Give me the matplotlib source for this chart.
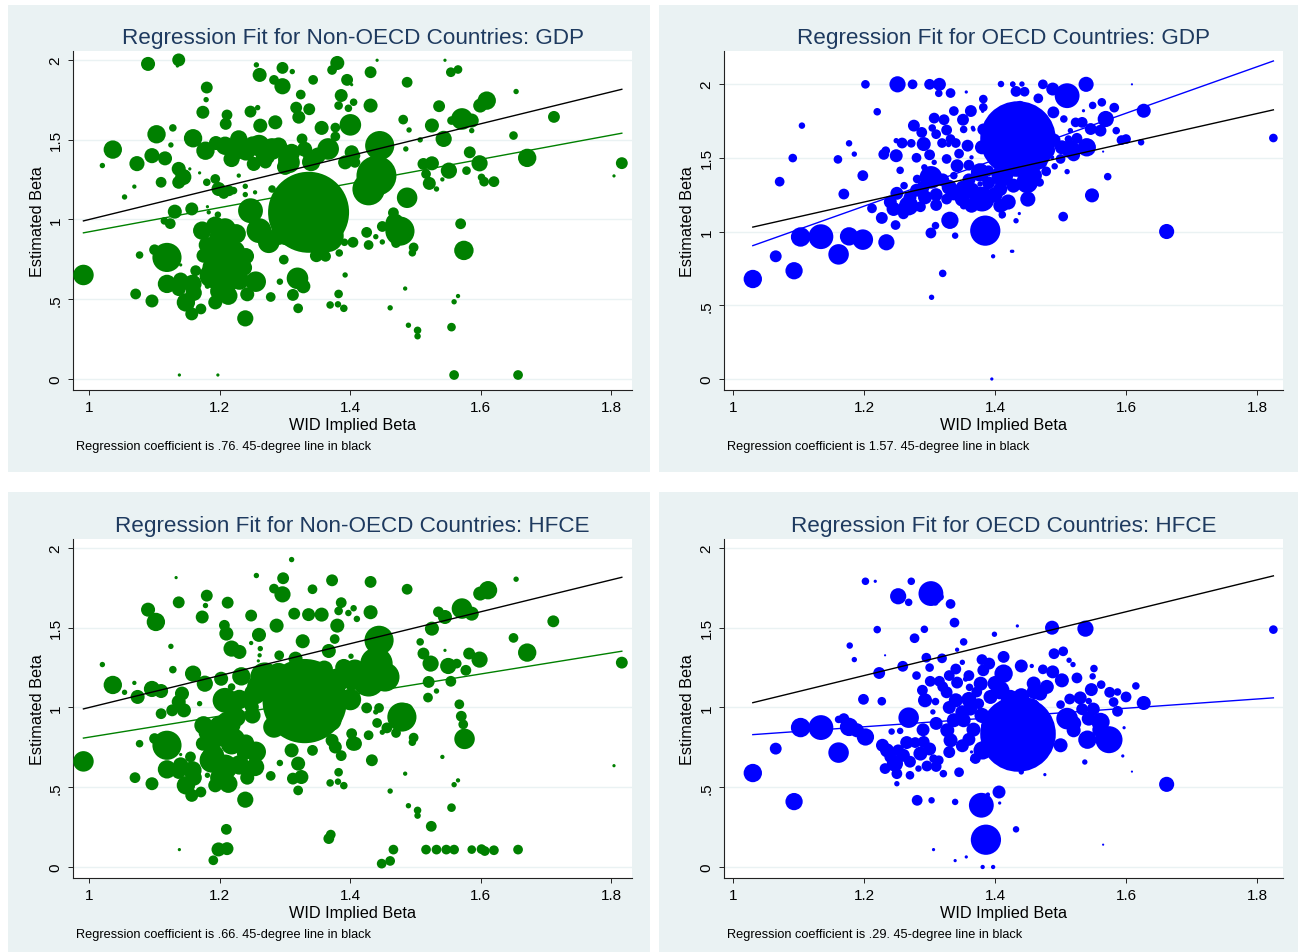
import matplotlib
matplotlib.use("Agg")
import matplotlib.pyplot as plt
from matplotlib.patches import Rectangle
import numpy as np

plt.rcParams['font.family'] = ['Liberation Sans', 'DejaVu Sans']

# ---------------- data: (WID implied beta, estimated beta, marker weight ~ diameter) -------------
nonoecd_gdp = [
    (1.090, 1.975, 13), (1.137, 2.000, 12), (1.135, 1.962, 3), (0.991, 0.652, 19), (1.036, 1.438, 17),
    (1.020, 1.338, 5), (1.054, 1.141, 5), (1.069, 1.206, 4), (1.073, 1.350, 14), (1.103, 1.534, 17),
    (1.096, 1.400, 14), (1.116, 1.383, 13), (1.128, 1.574, 7), (1.125, 1.467, 5), (1.110, 1.233, 10),
    (1.137, 1.317, 13), (1.144, 1.266, 15), (1.137, 1.233, 12), (1.154, 1.317, 3), (1.169, 1.292, 3),
    (1.159, 1.509, 17), (1.174, 1.672, 12), (1.179, 1.751, 5), (1.180, 1.827, 11), (1.178, 1.431, 17),
    (1.194, 1.479, 13), (1.211, 1.655, 10), (1.209, 1.599, 11), (1.208, 1.462, 17), (1.218, 1.379, 15),
    (1.229, 1.505, 16), (1.193, 1.254, 9), (1.198, 1.191, 13), (1.180, 1.233, 7), (1.221, 1.181, 7),
    (1.229, 1.275, 4), (1.239, 1.208, 5), (1.239, 1.156, 5), (1.254, 1.170, 4), (1.247, 1.676, 11),
    (1.258, 1.701, 5), (1.262, 1.588, 13), (1.260, 1.463, 20), (1.280, 1.442, 20), (1.285, 1.609, 13),
    (1.252, 1.348, 13), (1.280, 1.191, 7), (1.300, 1.379, 13), (1.261, 1.906, 13), (1.256, 1.969, 5),
    (1.296, 1.950, 11), (1.311, 1.927, 5), (1.283, 1.875, 9), (1.296, 1.835, 15), (1.324, 1.783, 9),
    (1.343, 1.875, 9), (1.317, 1.701, 11), (1.337, 1.691, 11), (1.321, 1.641, 12), (1.326, 1.505, 10),
    (1.336, 1.400, 10), (1.356, 1.574, 13), (1.377, 1.576, 9), (1.377, 1.520, 9), (1.380, 1.981, 13),
    (1.372, 1.937, 9), (1.395, 1.875, 11), (1.386, 1.777, 12), (1.382, 1.714, 8), (1.397, 1.697, 7),
    (1.405, 1.735, 7), (1.400, 1.593, 20), (1.366, 1.442, 20), (1.392, 1.358, 13), (1.336, 1.045, 75),
    (1.304, 0.939, 30), (1.365, 0.897, 30), (1.355, 0.794, 13), (1.306, 1.358, 20), (1.340, 1.360, 17),
    (1.247, 1.055, 23), (1.260, 0.930, 23), (1.275, 0.857, 20), (1.290, 0.898, 17), (1.193, 0.961, 17),
    (1.173, 0.930, 17), (1.208, 0.940, 20), (1.213, 0.836, 20), (1.198, 0.773, 20), (1.218, 0.710, 20),
    (1.188, 0.648, 23), (1.208, 0.606, 23), (1.213, 0.522, 17), (1.193, 0.480, 13), (1.175, 0.773, 13),
    (1.163, 0.679, 10), (1.158, 0.596, 17), (1.148, 0.480, 17), (1.157, 0.408, 12), (1.171, 0.439, 10),
    (1.137, 0.564, 13), (1.119, 0.596, 17), (1.119, 0.762, 27), (1.100, 0.810, 10), (1.077, 0.777, 7),
    (1.071, 0.533, 10), (1.096, 0.489, 12), (1.140, 0.715, 3), (1.181, 0.582, 5), (1.239, 0.380, 15),
    (1.242, 0.531, 13), (1.237, 0.698, 15), (1.255, 0.610, 19), (1.278, 0.514, 9), (1.292, 0.610, 6),
    (1.298, 0.748, 9), (1.312, 0.527, 11), (1.320, 0.443, 9), (1.319, 0.631, 20), (1.328, 0.581, 13),
    (1.348, 0.773, 12), (1.362, 0.769, 10), (1.383, 0.790, 7), (1.404, 0.857, 10), (1.391, 0.857, 7),
    (1.392, 0.652, 5), (1.382, 0.533, 8), (1.369, 0.464, 7), (1.381, 0.468, 6), (1.390, 0.443, 7),
    (1.138, 0.025, 3), (1.197, 0.025, 3), (1.131, 1.049, 13), (1.124, 0.974, 10), (1.115, 0.991, 7),
    (1.157, 1.066, 12), (1.183, 1.045, 4), (1.197, 1.030, 6), (1.181, 1.080, 3), (1.206, 1.163, 10),
    (1.214, 1.180, 10), (1.240, 1.100, 4),
    (1.240, 1.430, 18), (1.270, 1.400, 18), (1.290, 1.460, 16), (1.310, 1.420, 16), (1.222, 1.420, 16),
    (1.250, 1.470, 15), (1.330, 1.440, 14), (1.350, 1.400, 15), (1.300, 1.330, 15), (1.270, 1.360, 12),
    (1.200, 0.880, 20), (1.222, 0.800, 20), (1.190, 0.700, 20), (1.230, 0.620, 18), (1.200, 0.550, 18),
    (1.225, 0.910, 18), (1.240, 0.770, 15), (1.180, 0.840, 15), (1.160, 0.540, 15), (1.140, 0.620, 14),
    (1.402, 1.845, 3), (1.431, 1.923, 11), (1.441, 1.998, 3), (1.487, 1.860, 10), (1.545, 1.998, 3),
    (1.554, 1.923, 9), (1.565, 1.940, 8), (1.431, 1.714, 13), (1.481, 1.626, 9), (1.490, 1.561, 5),
    (1.536, 1.710, 11), (1.525, 1.589, 13), (1.543, 1.505, 15), (1.507, 1.499, 5), (1.485, 1.442, 5),
    (1.571, 1.630, 20), (1.586, 1.620, 13), (1.555, 1.620, 8), (1.586, 1.557, 5), (1.599, 1.714, 13),
    (1.609, 1.745, 17), (1.654, 1.802, 5), (1.712, 1.643, 11), (1.650, 1.526, 8), (1.671, 1.386, 17),
    (1.816, 1.353, 11), (1.804, 1.273, 3), (1.445, 1.463, 27), (1.440, 1.274, 37), (1.428, 1.190, 30),
    (1.407, 1.400, 10), (1.402, 1.421, 13), (1.407, 1.358, 10), (1.487, 1.136, 19), (1.466, 1.042, 10),
    (1.476, 0.927, 27), (1.468, 0.980, 17), (1.449, 0.956, 10), (1.425, 0.919, 10), (1.439, 0.892, 5),
    (1.449, 0.859, 5), (1.428, 0.840, 9), (1.470, 0.852, 9), (1.497, 0.825, 9), (1.495, 0.791, 7),
    (1.512, 1.348, 11), (1.525, 1.352, 13), (1.516, 1.285, 9), (1.521, 1.226, 12), (1.532, 1.191, 5),
    (1.541, 1.251, 4), (1.551, 1.306, 15), (1.578, 1.306, 8), (1.583, 1.421, 11), (1.598, 1.352, 15),
    (1.601, 1.264, 7), (1.605, 1.237, 9), (1.620, 1.237, 10), (1.569, 0.973, 10), (1.574, 0.806, 18),
    (1.484, 0.567, 4), (1.461, 0.446, 5), (1.489, 0.337, 5), (1.503, 0.305, 7), (1.503, 0.268, 6),
    (1.565, 0.520, 4), (1.559, 0.484, 5), (1.555, 0.325, 8), (1.559, 0.025, 9), (1.657, 0.025, 9),
]

oecd_gdp = [
    (1.030, 0.678, 17), (1.065, 0.832, 11), (1.093, 0.734, 16), (1.071, 1.338, 9), (1.091, 1.498, 8),
    (1.105, 1.718, 6), (1.103, 0.963, 18), (1.134, 0.965, 23), (1.161, 0.845, 19), (1.177, 0.967, 17),
    (1.198, 0.945, 19), (1.234, 0.927, 15), (1.169, 1.254, 10), (1.160, 1.489, 8), (1.177, 1.598, 6),
    (1.185, 1.525, 5), (1.198, 1.379, 10), (1.202, 1.998, 8), (1.220, 1.812, 7), (1.251, 1.998, 15),
    (1.274, 1.998, 9), (1.300, 1.998, 10), (1.315, 1.998, 12), (1.314, 1.937, 7), (1.332, 1.939, 9),
    (1.356, 1.946, 3), (1.409, 2.000, 6), (1.427, 1.998, 5), (1.307, 1.769, 10), (1.322, 1.758, 10),
    (1.337, 1.817, 9), (1.351, 1.758, 11), (1.363, 1.817, 11), (1.326, 1.688, 10), (1.304, 1.702, 7),
    (1.276, 1.718, 11), (1.288, 1.672, 10), (1.291, 1.593, 13), (1.272, 1.598, 8), (1.258, 1.600, 10),
    (1.249, 1.616, 5), (1.230, 1.523, 10), (1.249, 1.514, 12), (1.233, 1.548, 8), (1.255, 1.415, 7),
    (1.319, 1.600, 9), (1.332, 1.627, 9), (1.329, 1.590, 5), (1.345, 1.528, 9), (1.358, 1.582, 11),
    (1.352, 1.692, 7), (1.366, 1.703, 4), (1.364, 1.503, 4), (1.326, 1.492, 9), (1.342, 1.446, 12),
    (1.337, 1.379, 7), (1.307, 1.469, 5), (1.292, 1.435, 6), (1.302, 1.367, 21), (1.281, 1.356, 8),
    (1.293, 1.232, 13), (1.261, 1.311, 7), (1.250, 1.259, 12), (1.268, 1.175, 18), (1.245, 1.153, 13),
    (1.227, 1.092, 11), (1.212, 1.157, 9), (1.248, 1.044, 9), (1.286, 1.168, 10), (1.302, 0.990, 10),
    (1.309, 1.040, 7), (1.331, 1.076, 16), (1.339, 0.972, 6), (1.320, 0.716, 7), (1.303, 0.554, 5),
    (1.385, 1.006, 28), (1.377, 1.401, 17), (1.390, 1.412, 10), (1.337, 1.266, 15), (1.326, 1.220, 10),
    (1.352, 1.175, 7), (1.364, 1.277, 15), (1.380, 1.220, 23), (1.364, 1.175, 13), (1.362, 1.333, 7),
    (1.377, 1.322, 5), (1.397, 0.832, 4), (1.427, 0.866, 3), (1.395, 0.000, 3), (1.408, 1.175, 13),
    (1.411, 1.114, 7), (1.382, 1.898, 8), (1.382, 1.842, 8), (1.381, 1.815, 3), (1.367, 1.692, 4),
    (1.382, 1.692, 11), (1.380, 1.571, 13), (1.411, 1.378, 20), (1.420, 1.460, 17),
    (1.330, 1.300, 14), (1.350, 1.220, 14), (1.310, 1.250, 12), (1.290, 1.300, 12), (1.360, 1.350, 12),
    (1.270, 1.230, 12), (1.400, 1.250, 14), (1.420, 1.200, 14), (1.450, 1.220, 14), (1.390, 1.330, 12),
    (1.480, 1.550, 14), (1.490, 1.620, 12), (1.520, 1.520, 12), (1.470, 1.470, 12), (1.460, 1.380, 14),
    (1.320, 1.350, 12), (1.280, 1.280, 12), (1.240, 1.200, 12), (1.260, 1.120, 10), (1.350, 1.300, 12),
    (1.310, 1.180, 11), (1.360, 1.450, 10), (1.300, 1.520, 10), (1.280, 1.500, 9), (1.340, 1.600, 9),
    (1.310, 1.660, 9),
    (1.435, 1.627, 70), (1.449, 1.333, 20), (1.428, 1.311, 13), (1.408, 1.288, 13), (1.413, 1.175, 10),
    (1.410, 1.107, 5), (1.432, 1.073, 5), (1.437, 1.122, 3), (1.425, 0.866, 3), (1.468, 1.333, 8),
    (1.478, 1.408, 9), (1.491, 1.442, 6), (1.510, 1.406, 5), (1.504, 1.101, 9), (1.548, 1.245, 13),
    (1.572, 1.372, 7), (1.662, 1.000, 14), (1.825, 1.634, 8), (1.627, 1.819, 13), (1.609, 1.998, 2),
    (1.539, 1.998, 14), (1.510, 1.921, 23), (1.488, 1.966, 12), (1.473, 1.998, 9), (1.466, 1.903, 9),
    (1.445, 1.948, 9), (1.432, 1.950, 10), (1.427, 2.000, 5), (1.441, 2.000, 5), (1.438, 1.853, 9),
    (1.489, 1.808, 11), (1.505, 1.763, 7), (1.523, 1.740, 9), (1.535, 1.819, 3), (1.549, 1.855, 7),
    (1.563, 1.876, 8), (1.582, 1.840, 9), (1.569, 1.763, 15), (1.561, 1.684, 11), (1.546, 1.695, 11),
    (1.533, 1.740, 10), (1.515, 1.684, 5), (1.525, 1.632, 10), (1.512, 1.627, 7), (1.502, 1.571, 13),
    (1.515, 1.559, 17), (1.540, 1.571, 17), (1.500, 1.492, 9), (1.487, 1.503, 4), (1.585, 1.684, 7),
    (1.593, 1.620, 9), (1.600, 1.627, 9), (1.623, 1.605, 6), (1.565, 1.542, 2),
]

nonoecd_hfce = [
    (0.991, 0.662, 19), (1.036, 1.141, 17), (1.020, 1.269, 5), (1.054, 1.095, 5), (1.069, 1.154, 4),
    (1.074, 1.066, 13), (1.090, 1.613, 13), (1.102, 1.536, 17), (1.096, 1.116, 15), (1.110, 1.103, 13),
    (1.110, 0.961, 10), (1.125, 1.383, 5), (1.128, 1.237, 7), (1.133, 1.814, 3), (1.137, 1.659, 11),
    (1.142, 1.087, 13), (1.137, 1.035, 13), (1.145, 0.982, 13), (1.127, 0.982, 11), (1.159, 1.212, 15),
    (1.177, 1.149, 15), (1.169, 1.024, 5), (1.180, 1.701, 11), (1.178, 1.639, 5), (1.173, 1.567, 12),
    (1.212, 1.657, 11), (1.207, 1.515, 10), (1.210, 1.463, 13), (1.218, 1.369, 15), (1.230, 1.348, 13),
    (1.202, 1.180, 13), (1.218, 1.128, 7), (1.233, 1.195, 17), (1.248, 1.576, 11), (1.260, 1.455, 13),
    (1.256, 1.827, 5), (1.248, 1.404, 4), (1.262, 1.369, 5), (1.261, 1.327, 4), (1.259, 1.292, 3),
    (1.287, 1.513, 13), (1.283, 1.745, 9), (1.297, 1.810, 11), (1.296, 1.709, 15), (1.310, 1.927, 5),
    (1.327, 1.415, 13), (1.314, 1.588, 11), (1.316, 1.306, 13), (1.291, 1.327, 9), (1.342, 1.741, 9),
    (1.356, 1.582, 13), (1.336, 1.582, 12), (1.372, 1.797, 11), (1.386, 1.657, 10), (1.382, 1.605, 8),
    (1.397, 1.592, 6), (1.405, 1.622, 6), (1.410, 1.555, 6), (1.380, 1.513, 13), (1.376, 1.429, 9),
    (1.367, 1.354, 13), (1.401, 1.321, 5), (1.330, 1.040, 78), (1.269, 1.191, 27), (1.290, 1.212, 20),
    (1.254, 1.087, 20), (1.249, 1.003, 13), (1.283, 0.878, 20), (1.304, 0.982, 17), (1.208, 1.045, 23),
    (1.213, 0.898, 23), (1.193, 0.814, 20), (1.218, 0.773, 20), (1.188, 0.669, 23), (1.208, 0.627, 23),
    (1.213, 0.522, 17), (1.193, 0.512, 13), (1.175, 0.888, 17), (1.174, 0.773, 13), (1.155, 0.690, 10),
    (1.158, 0.606, 17), (1.148, 0.512, 17), (1.157, 0.449, 12), (1.171, 0.470, 10), (1.137, 0.596, 13),
    (1.119, 0.612, 17), (1.119, 0.763, 27), (1.100, 0.805, 10), (1.077, 0.773, 7), (1.070, 0.560, 10),
    (1.096, 0.522, 12), (1.140, 0.705, 3), (1.181, 0.575, 5), (1.239, 0.422, 15), (1.242, 0.560, 13),
    (1.237, 0.711, 13), (1.255, 0.722, 19), (1.254, 0.627, 17), (1.278, 0.571, 9), (1.292, 0.652, 6),
    (1.310, 0.731, 13), (1.320, 0.648, 13), (1.325, 0.564, 13), (1.320, 0.480, 9), (1.312, 0.554, 11),
    (1.342, 0.731, 10), (1.372, 0.794, 12), (1.377, 0.752, 12), (1.386, 0.698, 10), (1.382, 0.594, 8),
    (1.369, 0.527, 7), (1.381, 0.535, 6), (1.390, 0.510, 7), (1.404, 0.773, 13), (1.402, 0.836, 10),
    (1.210, 0.236, 10), (1.198, 0.110, 13), (1.211, 0.115, 12), (1.190, 0.042, 9), (1.138, 0.109, 3),
    (1.367, 0.178, 10), (1.370, 0.203, 9), (1.310, 0.961, 13),
    (1.260, 1.130, 22), (1.290, 1.100, 20), (1.380, 1.170, 22), (1.400, 1.050, 20), (1.370, 0.920, 20),
    (1.300, 1.170, 20), (1.230, 1.050, 18), (1.250, 0.950, 15), (1.390, 1.250, 16), (1.360, 1.240, 16),
    (1.200, 0.880, 20), (1.222, 0.800, 20), (1.190, 0.700, 20), (1.230, 0.640, 18), (1.200, 0.560, 18),
    (1.225, 0.940, 18), (1.240, 0.780, 15), (1.180, 0.840, 15), (1.160, 0.560, 15), (1.140, 0.640, 14),
    (1.431, 1.787, 11), (1.487, 1.741, 10), (1.654, 1.804, 5), (1.431, 1.597, 13), (1.444, 1.421, 27),
    (1.440, 1.275, 30), (1.428, 1.170, 30), (1.453, 1.191, 27), (1.407, 1.233, 20), (1.402, 1.149, 13),
    (1.425, 0.997, 10), (1.444, 0.997, 9), (1.439, 0.972, 5), (1.441, 0.903, 9), (1.449, 0.845, 5),
    (1.456, 0.872, 10), (1.470, 0.840, 9), (1.479, 0.940, 27), (1.486, 0.982, 13), (1.428, 0.826, 9),
    (1.407, 0.773, 13), (1.433, 0.669, 11), (1.497, 0.811, 9), (1.495, 0.782, 7), (1.484, 0.585, 4),
    (1.461, 0.476, 5), (1.489, 0.384, 5), (1.503, 0.355, 7), (1.503, 0.322, 6), (1.524, 0.255, 10),
    (1.565, 0.543, 4), (1.559, 0.516, 5), (1.555, 0.372, 8), (1.541, 0.690, 4), (1.507, 1.411, 7),
    (1.512, 1.338, 11), (1.523, 1.275, 15), (1.545, 1.358, 3), (1.520, 1.160, 11), (1.519, 1.062, 9),
    (1.532, 1.103, 5), (1.550, 1.260, 15), (1.563, 1.275, 9), (1.577, 1.233, 10), (1.554, 1.164, 10),
    (1.582, 1.338, 11), (1.598, 1.300, 15), (1.567, 1.020, 9), (1.570, 0.945, 10), (1.573, 0.894, 9),
    (1.575, 0.803, 19), (1.525, 1.494, 13), (1.535, 1.599, 10), (1.545, 1.567, 13), (1.571, 1.620, 19),
    (1.586, 1.588, 13), (1.599, 1.714, 13), (1.611, 1.735, 17), (1.650, 1.436, 9), (1.671, 1.344, 17),
    (1.711, 1.540, 11), (1.816, 1.281, 11), (1.804, 0.635, 3),
    (1.466, 0.109, 9), (1.516, 0.109, 9), (1.532, 0.109, 9), (1.547, 0.109, 9), (1.559, 0.109, 9),
    (1.586, 0.109, 8), (1.601, 0.112, 9), (1.606, 0.100, 9), (1.620, 0.105, 9), (1.657, 0.109, 9),
    (1.448, 0.021, 9), (1.461, 0.038, 9),
]

oecd_hfce = [
    (1.030, 0.589, 17), (1.065, 0.742, 11), (1.093, 0.410, 16), (1.103, 0.874, 18), (1.134, 0.874, 23),
    (1.161, 0.717, 19), (1.161, 0.925, 7), (1.169, 0.930, 10), (1.177, 0.878, 17), (1.189, 0.857, 13),
    (1.202, 0.815, 16), (1.178, 1.388, 6), (1.185, 1.300, 5), (1.202, 1.791, 7), (1.217, 1.791, 3),
    (1.220, 1.488, 7), (1.223, 1.216, 11), (1.232, 1.327, 2), (1.199, 1.051, 10), (1.227, 1.039, 8),
    (1.252, 1.697, 15), (1.268, 1.659, 7), (1.272, 1.791, 7), (1.302, 1.714, 23), (1.316, 1.693, 7),
    (1.309, 1.655, 5), (1.332, 1.649, 9), (1.338, 1.532, 9), (1.292, 1.490, 7), (1.277, 1.434, 9),
    (1.352, 1.411, 7), (1.342, 1.362, 4), (1.399, 1.459, 5), (1.295, 1.312, 9), (1.319, 1.308, 9),
    (1.259, 1.258, 10), (1.350, 1.283, 5), (1.340, 1.241, 10), (1.355, 1.178, 5), (1.342, 1.156, 11),
    (1.301, 1.164, 10), (1.315, 1.164, 10), (1.289, 1.108, 10), (1.293, 1.045, 13), (1.309, 1.037, 7),
    (1.326, 1.095, 11), (1.340, 1.045, 13), (1.361, 1.126, 7), (1.372, 1.097, 10), (1.378, 1.149, 13),
    (1.382, 1.233, 11), (1.391, 1.275, 11), (1.362, 0.993, 13), (1.375, 1.024, 10), (1.305, 0.972, 5),
    (1.268, 0.936, 19), (1.255, 0.853, 6), (1.242, 0.849, 6), (1.337, 0.920, 13), (1.352, 0.920, 13),
    (1.367, 0.861, 13), (1.327, 0.857, 13), (1.332, 0.794, 13), (1.228, 0.763, 12), (1.235, 0.731, 13),
    (1.252, 0.731, 11), (1.265, 0.780, 12), (1.278, 0.780, 10), (1.291, 0.784, 11), (1.286, 0.711, 13),
    (1.247, 0.648, 15), (1.232, 0.617, 10), (1.250, 0.585, 10), (1.250, 0.522, 5), (1.270, 0.575, 8),
    (1.283, 0.617, 6), (1.296, 0.633, 10), (1.306, 0.679, 8), (1.314, 0.669, 9), (1.321, 0.585, 7),
    (1.345, 0.594, 9), (1.281, 0.418, 10), (1.303, 0.418, 6), (1.339, 0.408, 6), (1.379, 0.387, 23),
    (1.389, 0.454, 4), (1.406, 0.470, 12), (1.407, 0.401, 3), (1.386, 0.171, 28), (1.306, 0.109, 3),
    (1.339, 0.040, 3), (1.356, 0.063, 3), (1.381, 0.000, 4), (1.397, 0.000, 4), (1.381, 0.731, 17),
    (1.364, 0.721, 3), (1.364, 0.673, 3), (1.393, 1.066, 13), (1.413, 1.317, 11), (1.413, 1.212, 17),
    (1.408, 1.108, 17), (1.435, 0.834, 70), (1.423, 1.053, 17), (1.440, 1.070, 15), (1.415, 0.980, 17),
    (1.455, 1.000, 17),
    (1.360, 1.050, 14), (1.350, 0.970, 13), (1.380, 0.950, 14), (1.390, 0.880, 14), (1.360, 0.800, 12),
    (1.400, 0.800, 14), (1.330, 1.000, 12), (1.310, 0.900, 12), (1.400, 1.150, 14), (1.460, 1.100, 14),
    (1.530, 1.060, 12), (1.550, 0.990, 12), (1.520, 0.900, 14), (1.560, 0.860, 14),
    (1.260, 0.700, 12), (1.300, 0.740, 12), (1.270, 0.660, 11), (1.310, 0.630, 10), (1.330, 0.720, 11),
    (1.290, 0.860, 12), (1.240, 0.690, 11), (1.350, 0.760, 12), (1.370, 0.680, 10), (1.330, 1.200, 10),
    (1.360, 1.200, 10), (1.320, 1.130, 10), (1.380, 1.300, 10), (1.300, 1.250, 8), (1.280, 1.200, 8),
    (1.434, 1.511, 3), (1.487, 1.500, 13), (1.538, 1.494, 15), (1.825, 1.488, 8), (1.440, 1.260, 12),
    (1.456, 1.260, 4), (1.490, 1.337, 10), (1.504, 1.352, 9), (1.513, 1.296, 5), (1.519, 1.269, 5),
    (1.473, 1.239, 9), (1.488, 1.223, 12), (1.502, 1.170, 13), (1.525, 1.185, 10), (1.551, 1.244, 7),
    (1.549, 1.195, 6), (1.547, 1.112, 12), (1.562, 1.143, 8), (1.575, 1.095, 10), (1.587, 1.097, 7),
    (1.600, 1.066, 10), (1.615, 1.135, 7), (1.627, 1.028, 13), (1.581, 1.034, 9), (1.587, 0.976, 10),
    (1.543, 1.040, 6), (1.514, 1.053, 10), (1.500, 1.018, 8), (1.533, 0.989, 11), (1.510, 0.930, 20),
    (1.543, 0.930, 13), (1.561, 0.909, 17), (1.520, 0.857, 13), (1.541, 0.798, 17), (1.574, 0.798, 25),
    (1.500, 0.763, 13), (1.479, 1.129, 13), (1.459, 1.150, 13), (1.469, 1.087, 13), (1.597, 0.873, 3),
    (1.595, 0.696, 3), (1.537, 0.658, 5), (1.609, 0.598, 2), (1.476, 0.579, 3), (1.440, 0.596, 5),
    (1.662, 0.518, 14), (1.432, 0.236, 6), (1.565, 0.140, 2),
]

titles = ["Regression Fit for Non-OECD Countries: GDP", "Regression Fit for OECD Countries: GDP",
          "Regression Fit for Non-OECD Countries: HFCE", "Regression Fit for OECD Countries: HFCE"]
fit_slope = [0.757, 1.575, 0.66, 0.29]
fit_intercept = [0.166, -0.718, 0.154, 0.531]
notes = ["Regression coefficient is .76. 45-degree line in black",
         "Regression coefficient is 1.57. 45-degree line in black",
         "Regression coefficient is .66. 45-degree line in black",
         "Regression coefficient is .29. 45-degree line in black"]
x_ticks = [1, 1.2, 1.4, 1.6, 1.8]
x_ticklabels = ["1", "1.2", "1.4", "1.6", "1.8"]
y_ticks = [0, 0.5, 1, 1.5, 2]
y_ticklabels = ["0", ".5", "1", "1.5", "2"]

# ---------------- layout ----------------
W, H = 1303, 953
DPI = 100
SIZE_SCALE = 1.08
fig = plt.figure(figsize=(W / DPI, H / DPI), dpi=DPI)
fig.patch.set_facecolor('white')

BG = '#EAF2F3'
TITLE_C = '#1E3A5F'
GREEN = '#008000'
BLUE = '#0000FF'

def fx(px):
    return px / W

def fy(py):
    return 1 - py / H

panel_bg = [(8, 6, 650, 473), (659, 6, 1298, 473), (8, 493, 650, 953), (659, 493, 1298, 953)]
plot_box = [(73, 52, 632, 391), (724, 52, 1283, 391), (73, 540, 632, 879), (724, 540, 1283, 879)]
xlims = [(0.975, 1.8316), (0.986, 1.8397), (0.975, 1.8316), (0.986, 1.8397)]
ylims = [(-0.069, 2.056), (-0.0746, 2.224), (-0.069, 2.056), (-0.069, 2.056)]
colors = [GREEN, BLUE, GREEN, BLUE]
datasets = [nonoecd_gdp, oecd_gdp, nonoecd_hfce, oecd_hfce]

for (l, t, r, b) in panel_bg:
    fig.patches.append(Rectangle((fx(l), fy(b)), fx(r) - fx(l), fy(t) - fy(b),
                                 transform=fig.transFigure, facecolor=BG, edgecolor='none', zorder=-5))

for i in range(4):
    l, t, r, b = plot_box[i]
    ax = fig.add_axes([fx(l), fy(b), fx(r) - fx(l), fy(t) - fy(b)])
    ax.set_zorder(2)
    ax.set_facecolor('white')
    pts = np.array(datasets[i], dtype=float)
    xs, ys, ws = pts[:, 0], pts[:, 1], pts[:, 2]
    sizes = (ws * SIZE_SCALE * 72.0 / DPI) ** 2
    ax.scatter(xs, ys, s=sizes, c=colors[i], linewidths=0, zorder=3)
    xr = np.array([xs.min(), xs.max()])
    ax.plot(xr, fit_intercept[i] + fit_slope[i] * xr, color=colors[i], lw=1.0, zorder=4)
    ax.plot(xr, xr, color='black', lw=1.0, zorder=5)
    ax.set_xlim(*xlims[i])
    ax.set_ylim(*ylims[i])
    ax.set_xticks(x_ticks)
    ax.set_xticklabels(x_ticklabels)
    ax.set_yticks(y_ticks)
    ax.set_yticklabels(y_ticklabels, rotation=90, va='center')
    for yv in y_ticks:
        ax.axhline(yv, color=BG, lw=1.0, zorder=1)
    for s in ['top', 'right']:
        ax.spines[s].set_visible(False)
    for s in ['left', 'bottom']:
        ax.spines[s].set_color('#222222')
        ax.spines[s].set_linewidth(0.8)
    ax.tick_params(axis='both', direction='out', length=3.6, width=0.7, colors='#222222',
                   labelsize=11, labelcolor='black')
    ax.tick_params(axis='x', pad=3.5)
    ax.tick_params(axis='y', pad=4)

    cx = (l + r) / 2
    fig.text(fx(cx), fy(t - 8), titles[i], ha='center', va='baseline', fontsize=16.2, color=TITLE_C)
    fig.text(fx(cx), fy(b + 39), "WID Implied Beta", ha='center', va='baseline', fontsize=11.7, color='black')
    fig.text(fx(l - 36), fy((t + b) / 2), "Estimated Beta", ha='center', va='center', rotation=90,
             fontsize=11.7, color='black')
    fig.text(fx(l + 3), fy(b + 59), notes[i], ha='left', va='baseline', fontsize=9.2, color='black')

fig.savefig("out.png", dpi=DPI, facecolor='white')
